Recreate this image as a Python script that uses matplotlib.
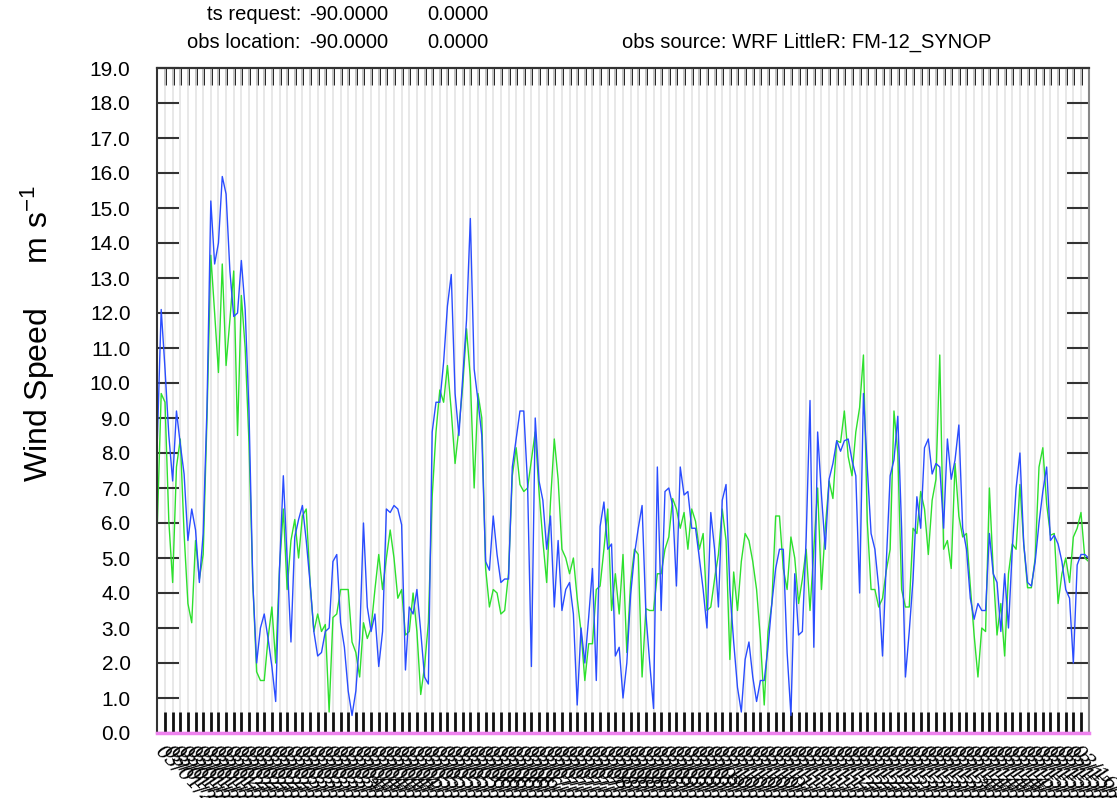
import numpy as np
import pandas as pd
import matplotlib
matplotlib.use('Agg')
import matplotlib.pyplot as plt

# wind speed, one value every 1.5 h, first value at -3 h
wrf_speed = [8.4, 12.1, 10.4, 8.5, 7.2, 9.2, 8.25, 7.4, 5.5, 6.4,
             5.8, 4.3, 5.7, 9.3, 15.2, 13.4, 14.0, 15.9, 15.4, 13.2,
             11.9, 12.0, 13.5, 12.1, 9.2, 4.3, 2.0, 3.0, 3.4, 2.7,
             1.9, 0.9, 4.7, 7.35, 5.0, 2.6, 5.6, 6.1, 6.5, 5.5,
             4.3, 2.9, 2.2, 2.3, 2.9, 3.0, 4.9, 5.1, 3.15, 2.45,
             1.2, 0.5, 1.2, 2.7, 6.0, 3.6, 2.9, 3.4, 1.9, 2.9,
             6.4, 6.3, 6.5, 6.4, 5.95, 1.8, 3.6, 3.4, 4.1, 2.9,
             1.6, 1.4, 8.6, 9.45, 9.45, 10.6, 12.2, 13.1, 9.7, 8.5,
             10.15, 11.8, 14.7, 10.4, 9.5, 8.5, 4.9, 4.65, 6.2, 5.1,
             4.3, 4.4, 4.4, 7.6, 8.4, 9.2, 9.2, 7.1, 1.9, 9.0,
             7.2, 6.65, 5.25, 6.2, 3.6, 5.5, 3.5, 4.1, 4.3, 3.4,
             0.8, 3.0, 2.0, 3.3, 4.7, 1.5, 5.9, 6.6, 5.25, 5.4,
             2.2, 2.45, 1.0, 2.0, 3.95, 5.1, 5.85, 6.5, 3.4, 2.0,
             0.7, 7.6, 3.5, 6.9, 7.0, 6.5, 4.2, 7.6, 6.8, 6.9,
             5.85, 5.85, 5.0, 4.1, 3.0, 6.3, 5.25, 3.6, 6.65, 7.1,
             4.1, 2.6, 1.3, 0.6, 2.1, 2.6, 1.6, 0.9, 1.5, 1.5,
             2.45, 3.7, 4.7, 5.25, 5.25, 2.3, 0.5, 4.55, 2.8, 2.9,
             5.6, 9.5, 2.45, 8.6, 6.8, 5.25, 7.25, 7.7, 8.35, 8.05,
             8.35, 8.4, 7.8, 7.35, 4.0, 9.7, 7.6, 5.7, 5.25, 4.15,
             2.2, 4.9, 7.35, 7.8, 9.05, 5.85, 1.6, 2.9, 4.4, 6.75,
             5.85, 8.15, 8.4, 7.4, 7.7, 7.6, 5.85, 8.4, 7.25, 7.8,
             8.8, 5.85, 5.25, 3.85, 3.25, 3.7, 3.5, 3.5, 5.7, 4.55,
             4.3, 2.9, 4.55, 3.0, 5.25, 7.0, 8.0, 5.4, 4.3, 4.2,
             4.9, 6.0, 6.9, 7.6, 5.5, 5.65, 5.4, 4.9, 4.1, 3.85,
             2.0, 4.8, 5.1, 5.1, 5.0]

obs_speed = [6.0, 9.7, 9.45, 6.05, 4.3, 7.6, 8.4, 5.7, 3.7, 3.15,
             5.5, 4.4, 5.1, 9.0, 13.65, 12.0, 10.3, 13.4, 10.5, 11.8,
             13.2, 8.5, 12.5, 11.0, 8.3, 4.3, 1.75, 1.5, 1.5, 2.7,
             3.6, 2.0, 4.7, 6.4, 4.1, 5.5, 6.1, 5.0, 6.2, 6.4,
             4.3, 2.9, 3.4, 2.9, 3.1, 0.6, 3.3, 3.4, 4.1, 4.1,
             4.1, 2.6, 2.3, 1.6, 3.15, 2.7, 3.0, 4.1, 5.1, 4.1,
             5.0, 5.8, 5.0, 3.85, 4.1, 2.8, 2.9, 4.0, 2.9, 1.1,
             1.9, 3.15, 6.75, 8.6, 9.8, 9.45, 10.5, 9.2, 7.7, 8.7,
             9.9, 11.55, 10.15, 7.0, 9.7, 9.0, 4.7, 3.6, 4.1, 4.0,
             3.4, 3.5, 4.55, 7.35, 8.15, 7.1, 6.9, 7.0, 7.8, 8.6,
             6.9, 5.5, 4.3, 6.6, 8.4, 7.25, 5.25, 5.0, 4.55, 5.0,
             3.85, 2.9, 1.5, 2.55, 2.55, 4.1, 4.2, 5.25, 6.4, 3.5,
             4.55, 3.4, 5.1, 2.3, 4.3, 5.25, 5.1, 1.6, 3.55, 3.5,
             3.5, 4.55, 4.55, 5.25, 5.6, 6.7, 6.4, 5.85, 6.3, 5.25,
             6.4, 6.05, 5.25, 5.7, 3.5, 3.6, 4.4, 5.1, 6.4, 5.5,
             2.1, 4.6, 3.5, 4.9, 5.7, 5.5, 4.9, 4.1, 2.7, 0.8,
             2.9, 3.7, 6.2, 6.2, 4.7, 4.1, 5.6, 5.0, 3.7, 4.4,
             5.25, 3.5, 5.25, 7.0, 4.1, 5.85, 7.2, 6.7, 8.35, 8.3,
             9.2, 7.9, 7.35, 8.6, 9.3, 10.8, 6.05, 4.1, 4.1, 3.6,
             3.85, 4.65, 5.25, 9.2, 8.0, 4.1, 3.6, 3.6, 5.85, 5.7,
             6.9, 6.4, 5.1, 6.65, 7.25, 10.8, 5.25, 5.5, 4.7, 7.7,
             6.2, 5.6, 5.7, 4.2, 2.8, 1.6, 3.0, 2.9, 7.0, 4.65,
             2.8, 3.7, 2.2, 4.55, 5.4, 5.25, 7.1, 5.4, 4.15, 4.15,
             5.0, 7.6, 8.15, 6.55, 5.65, 5.7, 3.7, 4.55, 5.0, 4.3,
             5.6, 5.85, 6.3, 5.0, 4.9]

tick_hours = np.arange(0, 361, 3)
tick_labels = list(pd.date_range('2012-03-01 00:00', periods=len(tick_hours), freq='3h')
                   .strftime('%m/%d/%Y_%H:%M'))
y_ticks = np.arange(0, 20)

header_left = [('ts request:', '-90.0000', '0.0000'),
               ('obs location:', '-90.0000', '0.0000')]
obs_source = 'obs source: WRF LittleR: FM-12_SYNOP'

plt.rcParams['font.family'] = ['Liberation Sans', 'DejaVu Sans']
plt.rcParams['mathtext.fontset'] = 'custom'
plt.rcParams['mathtext.rm'] = 'Liberation Sans'
plt.rcParams['mathtext.it'] = 'Liberation Sans:italic'

W, H = 1117, 798
fig = plt.figure(figsize=(W / 100, H / 100), dpi=100)
ax = fig.add_axes([157 / W, 1 - 733 / H, (1089 - 157) / W, (733 - 68) / H])

h_wrf = -3 + 1.5 * np.arange(len(wrf_speed))
h_obs = -3 + 1.5 * np.arange(len(obs_speed))
ax.plot(h_obs, obs_speed, color='#2ee02e', lw=1.0)
ax.plot(h_wrf, wrf_speed, color='#2a4dff', lw=1.0)
ax.axhline(0, color='violet', lw=2.5, clip_on=False, zorder=5)

ax.set_xlim(-3.15, 363.15)
ax.set_ylim(0, 19)
ax.set_axisbelow(True)
ax.grid(axis='x', color='#e4e4e4', lw=1.2)

ax.set_yticks(y_ticks)
ax.set_yticklabels([f'{v:.1f}' for v in y_ticks], fontsize=15)
ax.tick_params(axis='y', direction='in', length=16, width=1.5, color='#333333',
               left=True, right=True, pad=19)

ax.set_xticks(tick_hours)
ax.set_xticklabels(tick_labels, rotation=-45, ha='left', va='top', rotation_mode='anchor',
                   fontsize=14, family='DejaVu Serif', style='italic')
ax.tick_params(axis='x', direction='in', length=15, width=2, color='#111111', pad=6)

top = ax.secondary_xaxis('top')
top.set_xticks(tick_hours)
top.set_xticklabels([])
top.tick_params(direction='in', length=12, width=2, color='#111111')
top.spines['top'].set_linewidth(1.5)

for side, c in [('left', '#333333'), ('right', '#888888'), ('top', '#333333'), ('bottom', 'violet')]:
    ax.spines[side].set_color(c)
    ax.spines[side].set_linewidth(1.5)

fig.text(38 / W, 1 - 333 / H, 'Wind Speed     m s$^{-1}$', rotation=90,
         fontsize=23, ha='center', va='center')

for row, (name, lat, lon) in enumerate(header_left):
    y = 1 - (15 + row * 27) / H
    fig.text(301 / W, y, name, ha='right', va='center', fontsize=14.5)
    fig.text(309 / W, y, lat, ha='left', va='center', fontsize=14.5)
    fig.text(427 / W, y, lon, ha='left', va='center', fontsize=14.5)
fig.text(622 / W, 1 - 42 / H, obs_source, ha='left', va='center', fontsize=14.5)

fig.savefig('out.png', dpi=100)
